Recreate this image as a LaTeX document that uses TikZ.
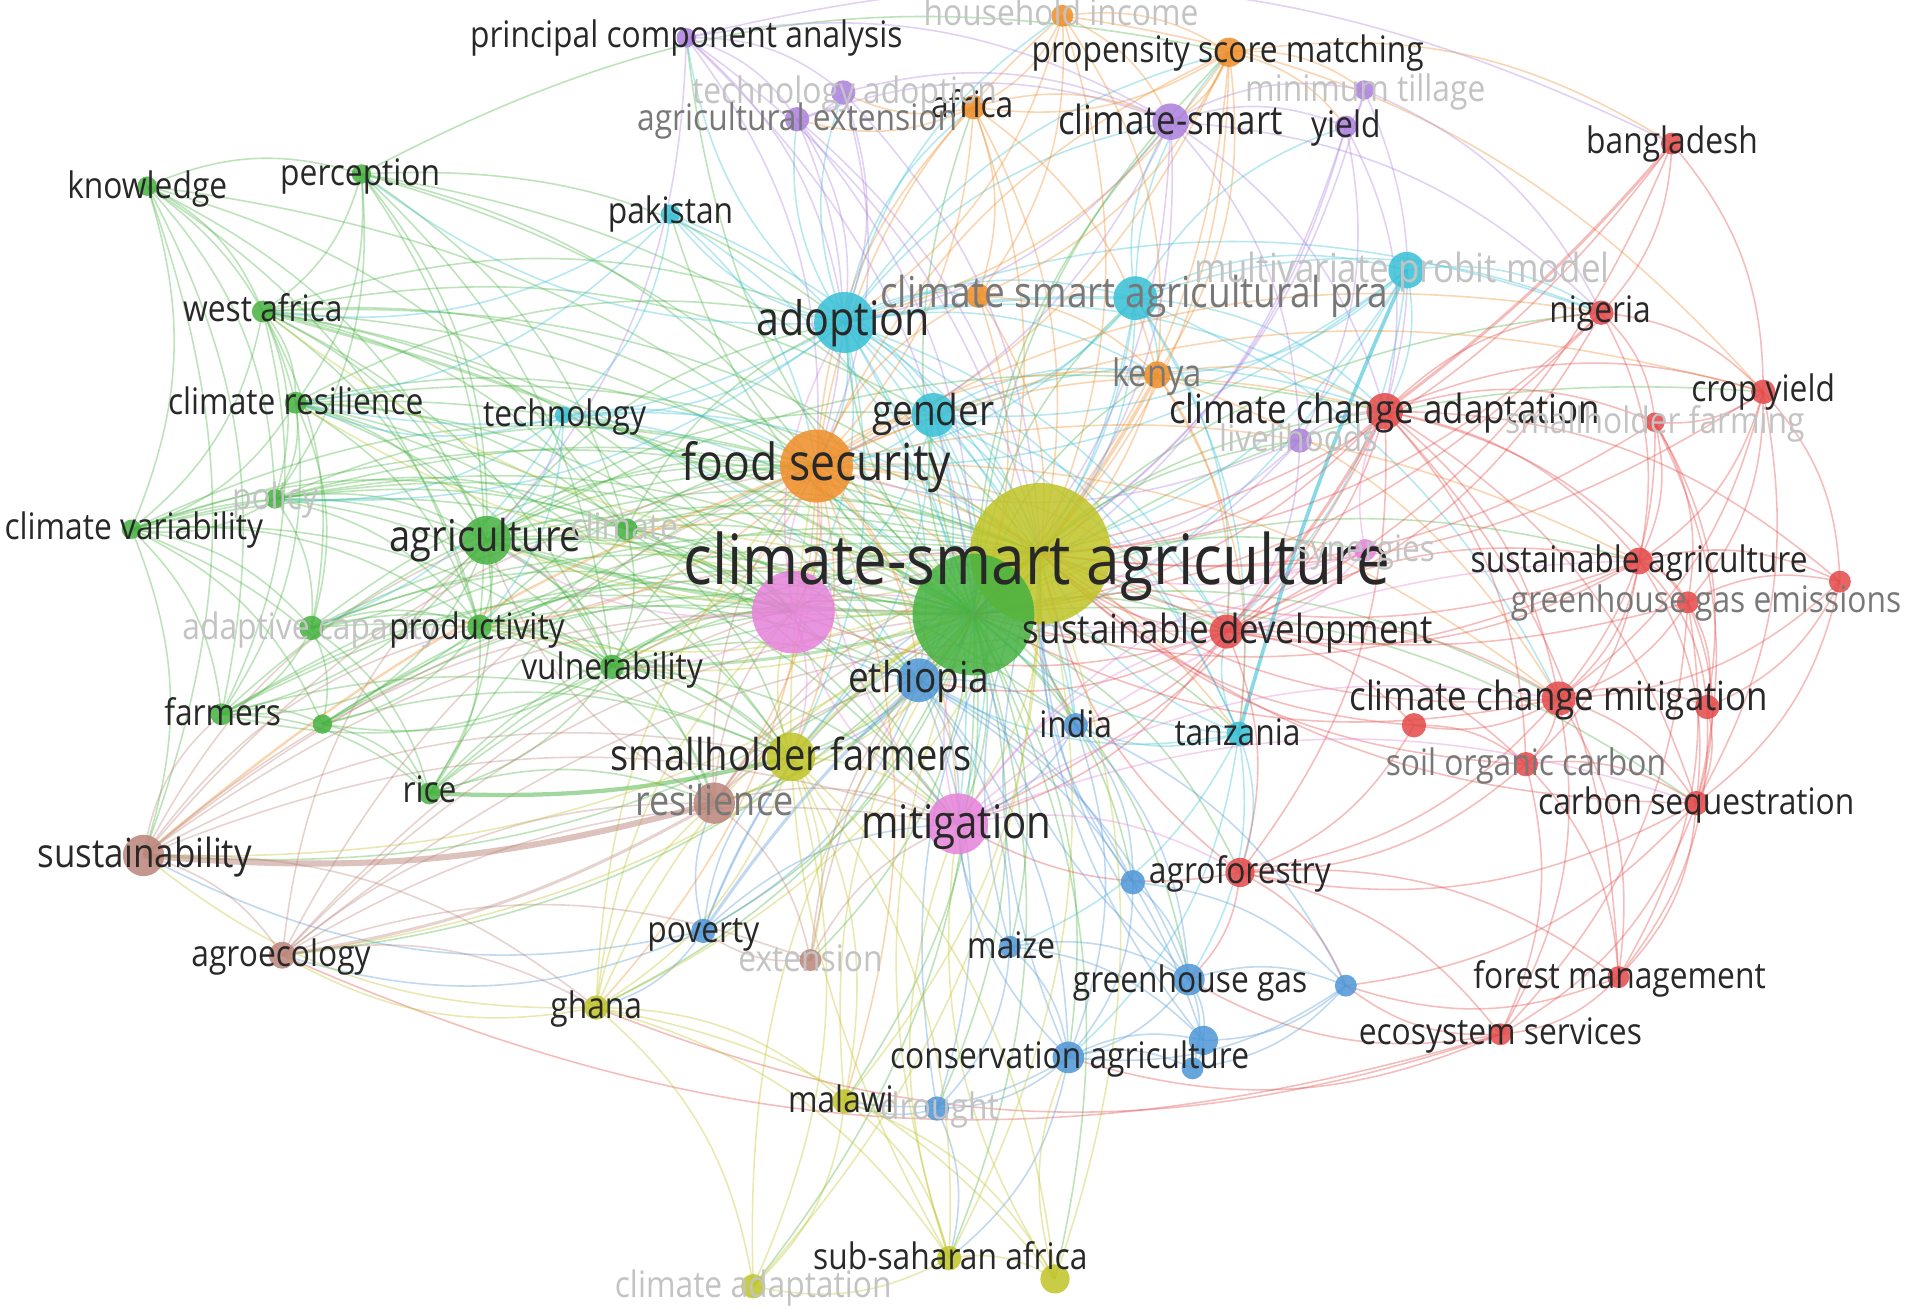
\documentclass[tikz,border=0pt]{standalone}
\usepackage{fontspec}
\setmainfont[FakeStretch=0.87]{Open Sans}
\pgfdeclarelayer{back}
\pgfdeclarelayer{bg}
\pgfsetlayers{back,bg,main}
\definecolor{cG}{RGB}{70,178,64}
\definecolor{cR}{RGB}{228,72,72}
\definecolor{cB}{RGB}{78,150,215}
\definecolor{cY}{RGB}{192,196,38}
\definecolor{cP}{RGB}{172,128,222}
\definecolor{cC}{RGB}{56,192,214}
\definecolor{cO}{RGB}{240,142,40}
\definecolor{cBr}{RGB}{188,132,122}
\definecolor{cPk}{RGB}{230,130,218}
\definecolor{tD}{RGB}{40,40,40}
\definecolor{tM}{RGB}{120,120,120}
\definecolor{tF}{RGB}{195,195,195}
\tikzset{
  kw/.style={circle, inner sep=0pt, draw=none, fill opacity=0.85, minimum size=#1},
  edge/.style={line width=1.3pt, draw opacity=0.36},
  lab/.style={font=\fontsize{#1}{#1}\selectfont, inner sep=0pt, anchor=base, yshift={-0.31*#1pt}},
}
\newcommand\fan[2]{\foreach \fdst in {#2}{\draw[edge] (#1.center) to[bend left=20] (\fdst.center);}}
\begin{document}
\begin{tikzpicture}[x=1pt,y=-1pt]
\useasboundingbox (0,0) rectangle (1568,1075);
\begin{pgfonlayer}{back}
\fill[white] (0,0) rectangle (1568,1075);
\end{pgfonlayer}
% ---------- keyword nodes ----------
\node[kw=116pt, fill=cY] (csa) at (855,455) {};
\node[kw=100pt, fill=cG] (ghub) at (800,505) {};
\node[kw=68pt, fill=cPk] (pkhub) at (652,503) {};
\node[kw=40pt, fill=cG] (agr) at (400,444) {};
\node[kw=16pt, fill=cG] (know) at (121,153) {};
\node[kw=16pt, fill=cG] (perc) at (297,143) {};
\node[kw=18pt, fill=cG] (wafr) at (216,256) {};
\node[kw=18pt, fill=cG] (cres) at (243,331) {};
\node[kw=16pt, fill=cG] (pol) at (226,410) {};
\node[kw=16pt, fill=cG] (cvar) at (108,435) {};
\node[kw=18pt, fill=cG] (clim) at (515,435) {};
\node[kw=20pt, fill=cG] (adcap) at (256,516) {};
\node[kw=20pt, fill=cG] (prod) at (394,515) {};
\node[kw=20pt, fill=cG] (vuln) at (503,548) {};
\node[kw=18pt, fill=cG] (farm) at (182,587) {};
\node[kw=16pt, fill=cG] (gtwo) at (265,595) {};
\node[kw=18pt, fill=cG] (rice) at (353,652) {};
\node[kw=50pt, fill=cC] (adop) at (694,265) {};
\node[kw=16pt, fill=cC] (paki) at (551,176) {};
\node[kw=36pt, fill=cC] (csap) at (933,245) {};
\node[kw=30pt, fill=cC] (mvp) at (1156,222) {};
\node[kw=36pt, fill=cC] (gend) at (767,341) {};
\node[kw=20pt, fill=cC] (tanz) at (1018,603) {};
\node[kw=14pt, fill=cC] (tech) at (463,341) {};
\node[kw=60pt, fill=cO] (food) at (671,383) {};
\node[kw=18pt, fill=cO] (hinc) at (873,13) {};
\node[kw=24pt, fill=cO] (psm) at (1010,43) {};
\node[kw=20pt, fill=cO] (afr) at (800,88) {};
\node[kw=22pt, fill=cO] (keny) at (951,308) {};
\node[kw=20pt, fill=cO] (otwo) at (804,243) {};
\node[kw=16pt, fill=cP] (pca) at (564,31) {};
\node[kw=20pt, fill=cP] (tado) at (693,76) {};
\node[kw=20pt, fill=cP] (agext) at (655,98) {};
\node[kw=30pt, fill=cP] (csm) at (962,100) {};
\node[kw=16pt, fill=cP] (mtil) at (1121,74) {};
\node[kw=18pt, fill=cP] (yld) at (1106,104) {};
\node[kw=20pt, fill=cP] (livh) at (1068,362) {};
\node[kw=18pt, fill=cR] (bang) at (1374,118) {};
\node[kw=20pt, fill=cR] (nig) at (1316,257) {};
\node[kw=20pt, fill=cR] (cyld) at (1449,322) {};
\node[kw=16pt, fill=cR] (shf) at (1360,347) {};
\node[kw=30pt, fill=cR] (cca) at (1138,338) {};
\node[kw=22pt, fill=cR] (susag) at (1347,461) {};
\node[kw=18pt, fill=cR] (ghge) at (1387,495) {};
\node[kw=18pt, fill=cR] (rtwo) at (1512,478) {};
\node[kw=28pt, fill=cR] (sdev) at (1008,519) {};
\node[kw=28pt, fill=cR] (ccm) at (1281,574) {};
\node[kw=20pt, fill=cR] (rthree) at (1162,596) {};
\node[kw=20pt, fill=cR] (rfour) at (1403,581) {};
\node[kw=20pt, fill=cR] (soc) at (1254,628) {};
\node[kw=20pt, fill=cR] (cseq) at (1394,660) {};
\node[kw=24pt, fill=cR] (agrof) at (1019,717) {};
\node[kw=18pt, fill=cR] (fman) at (1330,803) {};
\node[kw=18pt, fill=cR] (esrv) at (1233,850) {};
\node[kw=36pt, fill=cB] (eth) at (755,559) {};
\node[kw=20pt, fill=cB] (ind) at (884,596) {};
\node[kw=20pt, fill=cB] (btwo) at (931,725) {};
\node[kw=20pt, fill=cB] (pov) at (578,765) {};
\node[kw=18pt, fill=cB] (maiz) at (830,778) {};
\node[kw=26pt, fill=cB] (ghg) at (977,805) {};
\node[kw=18pt, fill=cB] (bthree) at (1106,810) {};
\node[kw=26pt, fill=cB] (cagr) at (878,869) {};
\node[kw=24pt, fill=cB] (bfour) at (989,855) {};
\node[kw=18pt, fill=cB] (bfive) at (980,878) {};
\node[kw=20pt, fill=cB] (drou) at (770,911) {};
\node[kw=40pt, fill=cY] (shfa) at (650,622) {};
\node[kw=20pt, fill=cY] (ghan) at (490,828) {};
\node[kw=20pt, fill=cY] (malw) at (694,905) {};
\node[kw=20pt, fill=cY] (ssa) at (780,1034) {};
\node[kw=24pt, fill=cY] (ytwo) at (867,1051) {};
\node[kw=20pt, fill=cY] (cadp) at (619,1057) {};
\node[kw=34pt, fill=cBr] (resl) at (587,660) {};
\node[kw=34pt, fill=cBr] (sust) at (118,703) {};
\node[kw=22pt, fill=cBr] (agec) at (232,785) {};
\node[kw=18pt, fill=cBr] (ext) at (666,789) {};
\node[kw=50pt, fill=cPk] (mitg) at (787,677) {};
\node[kw=18pt, fill=cPk] (syn) at (1122,452) {};
% ---------- links ----------
\begin{pgfonlayer}{bg}
\begin{scope}[color=cG]
\fan{know}{perc,wafr,cres,pol,cvar,agr,ghub,clim,prod,farm,sust}
\fan{perc}{wafr,cres,pol,agr,ghub,prod,vuln,clim,food,csa,adop,psm}
\fan{wafr}{cres,pol,cvar,agr,ghub,clim,prod,vuln,farm,adcap,csa,food,adop,gend,pkhub,eth}
\fan{cres}{pol,cvar,agr,ghub,clim,prod,vuln,adcap,farm,csa,food,adop,shfa,pkhub,mitg}
\fan{pol}{cvar,agr,ghub,clim,prod,adcap,vuln,csa,food,pkhub}
\fan{cvar}{agr,ghub,adcap,farm,gtwo,prod,vuln,clim,csa,food,sust,rice,pkhub}
\fan{agr}{clim,prod,vuln,farm,gtwo,rice,adcap,csa,food,adop,shfa,mitg,pkhub,eth,resl,gend,sdev,cca,ind}
\fan{clim}{ghub,prod,vuln,csa,food,adop,shfa,pkhub,eth,mitg}
\fan{adcap}{ghub,prod,farm,gtwo,vuln,rice,csa,food,pkhub,shfa}
\fan{prod}{ghub,vuln,farm,gtwo,rice,csa,food,shfa,resl,pkhub,eth}
\fan{vuln}{ghub,farm,gtwo,rice,csa,food,shfa,resl,mitg,pkhub,eth}
\fan{farm}{ghub,gtwo,rice,csa,food,shfa,pkhub}
\fan{gtwo}{ghub,rice,csa,shfa,pkhub}
\fan{rice}{ghub,csa,resl,food,pkhub}
\fan{ghub}{food,adop,gend,mitg,eth,shfa,resl,sdev,cca,csap,ind,tanz,agrof,sust,agec,pov,ghan,malw,ssa,ghg,cagr,maiz,keny,afr,pca,psm,csm,nig,cseq,ccm,susag,cyld,syn,livh,paki,tech,ytwo,cadp,drou,btwo,ext}
\draw[edge, line width=3pt] (ghub.center) to[bend left=8] (agr.center);
\draw[edge, line width=2.5pt] (ghub.center) to[bend left=8] (vuln.center);
\draw[edge, line width=2.5pt] (ghub.center) to[bend right=8] (wafr.center);
\draw[edge, line width=3.5pt, draw opacity=.5] (rice.center) to[bend right=8] (shfa.center);
\end{scope}
\begin{scope}[color=cC]
\fan{adop}{csa,ghub,food,gend,csap,paki,tech,otwo,afr,psm,csm,keny,eth,shfa,cca,nig,tanz,ind,pkhub,mitg,cres,pol,perc,tado,agext,pca,hinc,sdev}
\fan{csap}{mvp,gend,csa,keny,cca,nig,tanz,food,psm,csm,yld,ghub,eth,sdev,ccm}
\fan{mvp}{cca,nig,gend,csa,eth,keny,food,sdev}
\fan{paki}{tech,csa,food,cres,wafr,ghub}
\fan{tech}{csa,food,agr,cres,adcap,pol,prod,ghub,eth}
\fan{gend}{csa,food,eth,mitg,shfa,cca,sdev,tanz,ind,keny,pkhub,ghub}
\fan{tanz}{csa,sdev,agrof,ghg,cagr,maiz,eth,ghub,ind}
\draw[edge, line width=3pt, draw opacity=.6] (mvp.center) to[bend right=4] (tanz.center);
\draw[edge, line width=2.5pt] (adop.center) to[bend left=6] (csap.center);
\end{scope}
\begin{scope}[color=cO]
\fan{food}{csa,pkhub,mitg,eth,shfa,clim,keny,afr,psm,hinc,otwo,gend,cca,sdev,susag,nig,cyld,resl,vuln,prod,ghan,malw,ind,tanz,ccm}
\fan{hinc}{psm,afr,csm,otwo,adop,keny,csa,cyld}
\fan{psm}{afr,csm,yld,mtil,otwo,keny,csa,adop,food,bang,ghub}
\fan{afr}{otwo,keny,csa,csm,agext,tado,food,ghub}
\fan{keny}{cca,sdev,tanz,ccm,ghub}
\fan{otwo}{csa,keny,ghub}
\draw[edge, line width=3pt] (keny.center) to[bend left=4] (csa.center);
\draw[edge, line width=2pt] (food.center) to[bend right=10] (sust.center);
\end{scope}
\begin{scope}[color=cP]
\fan{pca}{tado,agext,adop,food,csa,ghub,csm,agr,bang}
\fan{tado}{agext,csm,adop,csa,food}
\fan{agext}{csm,adop,csa,food,ghub}
\fan{csm}{yld,mtil,csa,ghub,livh,cca,nig,adop,food}
\fan{mtil}{yld,cca,csa,nig}
\fan{yld}{csa,livh,cca,ghub}
\fan{livh}{csa,cca,sdev,ghub,food}
\end{scope}
\begin{scope}[color=cR]
\fan{cca}{csa,ghub,nig,cyld,shf,susag,ghge,sdev,ccm,rtwo,soc,cseq,agrof,fman,mitg}
\fan{bang}{nig,cyld,csa,sdev}
\fan{nig}{cyld,shf,susag,csa,ghub,sdev}
\fan{cyld}{shf,susag,ghge,rtwo,cseq,ccm,csa}
\fan{shf}{susag,ghge,ccm,cseq,rfour,csa}
\fan{susag}{ghge,rtwo,ccm,cseq,sdev,csa,soc,rfour,ghub}
\fan{ghge}{rtwo,ccm,cseq,rfour,fman,esrv,csa}
\fan{rtwo}{ccm,cseq,rfour}
\fan{sdev}{csa,mitg,ccm,rthree,soc,agrof,eth,ind,susag,pkhub}
\fan{ccm}{rthree,rfour,soc,cseq,fman,esrv,agrof,csa,ghub}
\fan{rthree}{soc,agrof,csa}
\fan{rfour}{cseq,fman}
\fan{soc}{cseq,fman,esrv,agrof,csa}
\fan{cseq}{fman,esrv,agrof,bthree,csa}
\fan{agrof}{fman,esrv,bthree,ghg,csa,mitg}
\fan{fman}{esrv,bthree}
\fan{esrv}{bthree,ghg,cagr,ghan,agec}
\draw[edge, line width=2.5pt] (cca.center) to[bend right=6] (bang.center);
\draw[edge, line width=2.5pt] (cca.center) to[bend left=6] (sdev.center);
\end{scope}
\begin{scope}[color=cB]
\fan{eth}{csa,pkhub,mitg,shfa,ind,pov,maiz,ghg,cagr,btwo,bfour,drou}
\fan{ind}{csa,mitg,ghg,cagr,btwo,bthree}
\fan{btwo}{csa,cagr,ghg,bthree}
\fan{pov}{csa,ghub,shfa,mitg,sust,agec,ghan,resl}
\fan{maiz}{csa,cagr,ghg,bfour,drou,mitg}
\fan{ghg}{csa,bthree,cagr,bfour,bfive,ghub}
\fan{bthree}{bfour,bfive,cagr}
\fan{cagr}{csa,bfour,bfive,drou,malw,ssa,mitg}
\fan{bfour}{bfive,csa}
\fan{drou}{csa,malw,ssa}
\draw[edge, line width=2.5pt] (pov.center) to[bend left=6] (eth.center);
\end{scope}
\begin{scope}[color=cY]
\fan{csa}{pkhub,mitg,ghan,malw,ssa,ytwo,cadp,resl,sust,agec,agr,vuln,prod,cres,wafr}
\fan{shfa}{ghan,malw,ssa,cadp,resl,mitg,pkhub,ext,ytwo}
\fan{ghan}{malw,ssa,ytwo,cadp,resl,sust,agec,pkhub,food,ghub}
\fan{malw}{ssa,ytwo,cadp,ghub}
\fan{ssa}{ytwo,cadp,ghub,mitg,food}
\fan{ytwo}{cagr,mitg}
\fan{cadp}{ghub}
\draw[edge, line width=3pt] (shfa.center) to[bend left=6] (csa.center);
\end{scope}
\begin{scope}[color=cBr]
\fan{sust}{agec,agr,food,ghub,csa,farm,prod,pkhub,ghan,shfa,mitg}
\fan{agec}{resl,ghub,csa,food,ghan,ext,mitg,agr,sdev}
\fan{resl}{csa,ghub,shfa,mitg,food,ext,pkhub,agr,eth}
\fan{ext}{csa,ghub,mitg,pov}
\draw[edge, line width=5pt, draw opacity=.5] (sust.center) to[bend right=10] (resl.center);
\draw[edge, line width=2.5pt] (agec.center) to[bend right=10] (resl.center);
\end{scope}
\begin{scope}[color=cPk]
\fan{mitg}{ghub,pkhub,food,syn,sdev,ccm,agrof,cseq,susag}
\fan{pkhub}{csa,ghub,food,adop,agr,vuln,shfa}
\fan{syn}{csa,cca,sdev,ghub}
\end{scope}
\end{pgfonlayer}
% ---------- labels ----------
\node[lab=57, text=tD] (csa-l) at (852,463) {climate-smart agriculture};
\node[lab=42, text=tD] (food-l) at (671,382) {food security};
\node[lab=39, text=tD] (adop-l) at (693,264) {adoption};
\node[lab=38, text=tD] (mitg-l) at (786,677) {mitigation};
\node[lab=36, text=tD] (agr-l) at (399,442) {agriculture};
\node[lab=36, text=tD] (shfa-l) at (650,622) {smallholder farmers};
\node[lab=35, text=tD] (gend-l) at (767,339) {gender};
\node[lab=35, text=tD] (eth-l) at (755,558) {ethiopia};
\node[lab=33, text=tD] (cca-l) at (1138,338) {climate change adaptation};
\node[lab=33, text=tD] (sdev-l) at (1009,519) {sustainable development};
\node[lab=33, text=tD] (ccm-l) at (1281,574) {climate change mitigation};
\node[lab=34, text=tM] (resl-l) at (587,660) {resilience};
\node[lab=33, text=tD] (sust-l) at (119,703) {sustainability};
\node[lab=35, text=tM] (csap-l) at (932,242) {climate smart agricultural pra};
\node[lab=33, text=tF] (mvp-l) at (1152,222) {multivariate probit model};
\node[lab=33, text=tD] (csm-l) at (962,100) {climate-smart};
\node[lab=30, text=tD] (know-l) at (121,154) {knowledge};
\node[lab=30, text=tD] (perc-l) at (296,143) {perception};
\node[lab=30, text=tD] (wafr-l) at (216,255) {west africa};
\node[lab=30, text=tD] (cres-l) at (243,331) {climate resilience};
\node[lab=30, text=tF] (pol-l) at (226,409) {policy};
\node[lab=30, text=tD] (cvar-l) at (110,434) {climate variability};
\node[lab=30, text=tF] (clim-l) at (513,434) {climate};
\node[lab=30, text=tF] (adcap-l) at (255,516) {adaptive capacity};
\node[lab=30, text=tD] (prod-l) at (392,516) {productivity};
\node[lab=30, text=tD] (vuln-l) at (503,549) {vulnerability};
\node[lab=30, text=tD] (farm-l) at (183,587) {farmers};
\node[lab=30, text=tD] (rice-l) at (353,650) {rice};
\node[lab=30, text=tD] (paki-l) at (551,174) {pakistan};
\node[lab=30, text=tD] (tech-l) at (464,341) {technology};
\node[lab=30, text=tD] (tanz-l) at (1017,603) {tanzania};
\node[lab=30, text=tF] (hinc-l) at (872,12) {household income};
\node[lab=30, text=tD] (psm-l) at (1009,42) {propensity score matching};
\node[lab=30, text=tD] (afr-l) at (799,87) {africa};
\node[lab=31, text=tM] (keny-l) at (951,308) {kenya};
\node[lab=30, text=tD] (pca-l) at (564,30) {principal component analysis};
\node[lab=30, text=tF] (tado-l) at (694,76) {technology adoption};
\node[lab=30, text=tM] (agext-l) at (655,98) {agricultural extension};
\node[lab=30, text=tF] (mtil-l) at (1122,74) {minimum tillage};
\node[lab=30, text=tD] (yld-l) at (1106,104) {yield};
\node[lab=30, text=tF] (livh-l) at (1067,362) {livelihoods};
\node[lab=30, text=tD] (bang-l) at (1374,117) {bangladesh};
\node[lab=30, text=tD] (nig-l) at (1315,256) {nigeria};
\node[lab=30, text=tD] (cyld-l) at (1449,321) {crop yield};
\node[lab=30, text=tF] (shf-l) at (1360,347) {smallholder farming};
\node[lab=30, text=tD] (susag-l) at (1347,461) {sustainable agriculture};
\node[lab=30, text=tM] (ghge-l) at (1402,494) {greenhouse gas emissions};
\node[lab=30, text=tM] (soc-l) at (1254,628) {soil organic carbon};
\node[lab=30, text=tD] (cseq-l) at (1394,660) {carbon sequestration};
\node[lab=30, text=tD] (agrof-l) at (1019,717) {agroforestry};
\node[lab=30, text=tD] (fman-l) at (1331,803) {forest management};
\node[lab=30, text=tD] (esrv-l) at (1233,849) {ecosystem services};
\node[lab=30, text=tD] (ind-l) at (884,597) {india};
\node[lab=30, text=tD] (pov-l) at (578,765) {poverty};
\node[lab=30, text=tD] (maiz-l) at (831,778) {maize};
\node[lab=30, text=tD] (ghg-l) at (978,806) {greenhouse gas};
\node[lab=30, text=tD] (cagr-l) at (879,869) {conservation agriculture};
\node[lab=30, text=tF] (drou-l) at (772,911) {drought};
\node[lab=30, text=tD] (ghan-l) at (490,828) {ghana};
\node[lab=30, text=tD] (malw-l) at (691,905) {malawi};
\node[lab=30, text=tD] (ssa-l) at (781,1034) {sub-saharan africa};
\node[lab=30, text=tF] (cadp-l) at (619,1057) {climate adaptation};
\node[lab=30, text=tD] (agec-l) at (231,785) {agroecology};
\node[lab=30, text=tF] (ext-l) at (666,789) {extension};
\node[lab=30, text=tF] (syn-l) at (1122,452) {synergies};
\end{tikzpicture}
\end{document}
